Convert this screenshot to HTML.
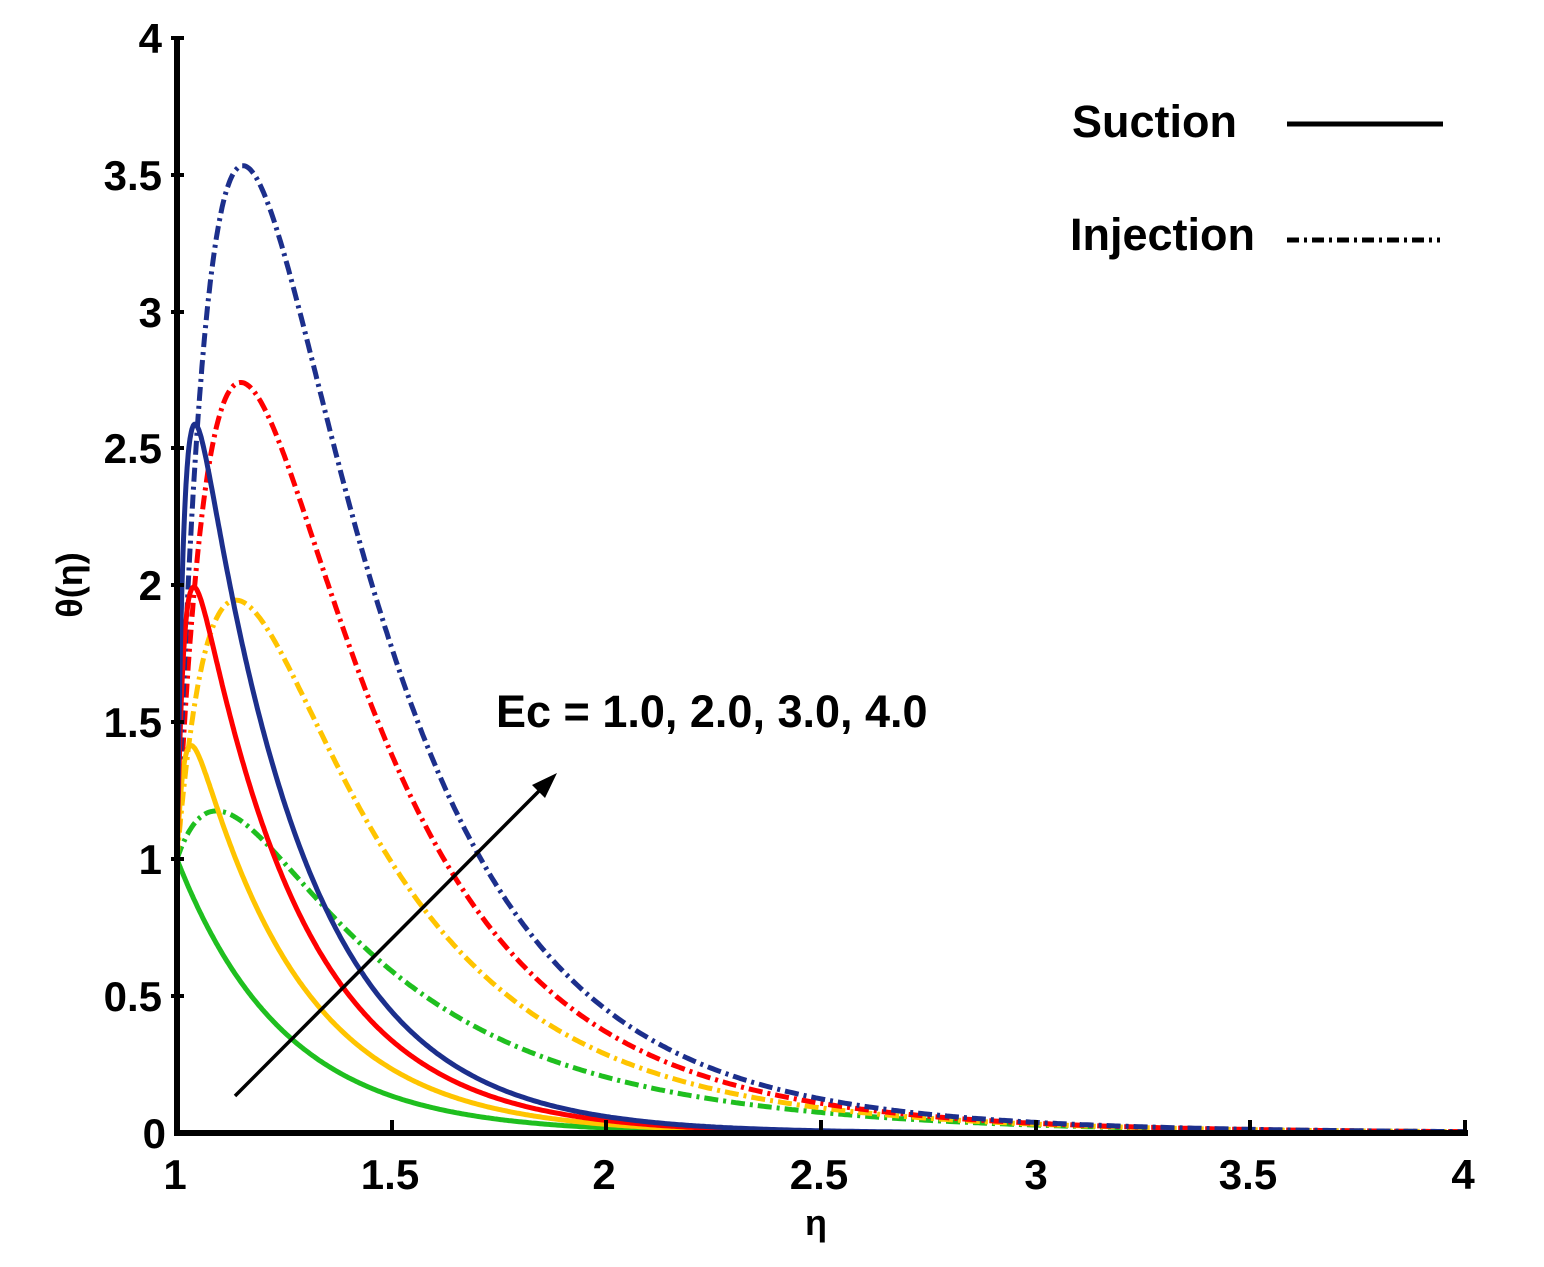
<!DOCTYPE html>
<html><head><meta charset="utf-8"><style>
html,body{margin:0;padding:0;background:#fff}
svg text{font-family:"Liberation Sans",Arial,sans-serif;font-weight:bold;fill:#000}
</style></head><body>
<svg id="s" width="1544" height="1262" xmlns="http://www.w3.org/2000/svg">
<g id="curves"></g>
<line x1="177" y1="36" x2="177" y2="1136" stroke="#000" stroke-width="6"/>
<line x1="174" y1="1133" x2="1468" y2="1133" stroke="#000" stroke-width="6"/>
<g stroke="#000" stroke-width="4">
<line x1="171" y1="38" x2="184" y2="38"/><line x1="171" y1="175" x2="184" y2="175"/>
<line x1="171" y1="312" x2="184" y2="312"/><line x1="171" y1="448" x2="184" y2="448"/>
<line x1="171" y1="585" x2="184" y2="585"/><line x1="171" y1="722" x2="184" y2="722"/>
<line x1="171" y1="859" x2="184" y2="859"/><line x1="171" y1="996" x2="184" y2="996"/>
<line x1="392" y1="1120" x2="392" y2="1133"/><line x1="606" y1="1120" x2="606" y2="1133"/>
<line x1="821" y1="1120" x2="821" y2="1133"/><line x1="1036" y1="1120" x2="1036" y2="1133"/>
<line x1="1250" y1="1120" x2="1250" y2="1133"/><line x1="1465" y1="1120" x2="1465" y2="1133"/>
</g>
<g font-size="42" text-anchor="end">
<text x="162" y="53">4</text><text x="162" y="190">3.5</text><text x="162" y="327">3</text>
<text x="162" y="463">2.5</text><text x="162" y="600">2</text><text x="162" y="737">1.5</text>
<text x="162" y="874">1</text><text x="162" y="1011">0.5</text><text x="166" y="1148">0</text>
</g>
<g font-size="42" text-anchor="middle">
<text x="175" y="1189">1</text><text x="390" y="1189">1.5</text><text x="604" y="1189">2</text>
<text x="819" y="1189">2.5</text><text x="1036" y="1189">3</text><text x="1248" y="1189">3.5</text>
<text x="1463" y="1189">4</text>
<text x="816" y="1235" font-size="36">η</text>
</g>
<text x="0" y="0" font-size="36" text-anchor="middle" transform="translate(82,585) rotate(-90)">θ(η)</text>
<text x="1072" y="137" font-size="45">Suction</text>
<line x1="1287" y1="124" x2="1443" y2="124" stroke="#000" stroke-width="5"/>
<text x="1070" y="250" font-size="45">Injection</text>
<line x1="1287" y1="240" x2="1440" y2="240" stroke="#000" stroke-width="5" stroke-dasharray="12 5 3 5"/>
<line x1="235" y1="1096" x2="545" y2="785" stroke="#000" stroke-width="3.5"/>
<polygon points="557,773 532,785 545,798" fill="#000"/>
<text x="496" y="727" font-size="45">Ec = 1.0, 2.0, 3.0, 4.0</text>
</svg>
<script>
(function(){
var g=document.getElementById('curves');
function X(e){return 177+(e-1)*429.3;}
function Y(t){return 1133-t*273.75;}
function path(k,B,a,b){var d='';for(var i=0;i<=600;i++){var s=3*Math.pow(i/600,1.6);var t=Math.exp(-k*s)+B*(Math.exp(-a*s)-Math.exp(-b*s));d+=(i?'L':'M')+X(1+s).toFixed(1)+' '+Y(t).toFixed(1);}return d;}
var cols=['#1fbf1f','#ffc400','#ff0000','#1c2f8c'];
var Bi=[0.95,2.98,5.0,7.0], Bs=[0,0.73,1.5,2.28];
function add(d,c,dash){var p=document.createElementNS('http://www.w3.org/2000/svg','path');p.setAttribute('d',d);p.setAttribute('fill','none');p.setAttribute('stroke',c);p.setAttribute('stroke-width','5');if(dash)p.setAttribute('stroke-dasharray','14 5 3 5');g.appendChild(p);}
for(var i=0;i<4;i++)add(path(1.8,Bi[i],3.2,10),cols[i],true);
for(var i=0;i<4;i++)add(path(4,Bs[i],4,60),cols[i],false);
})();
</script>
</body></html>
